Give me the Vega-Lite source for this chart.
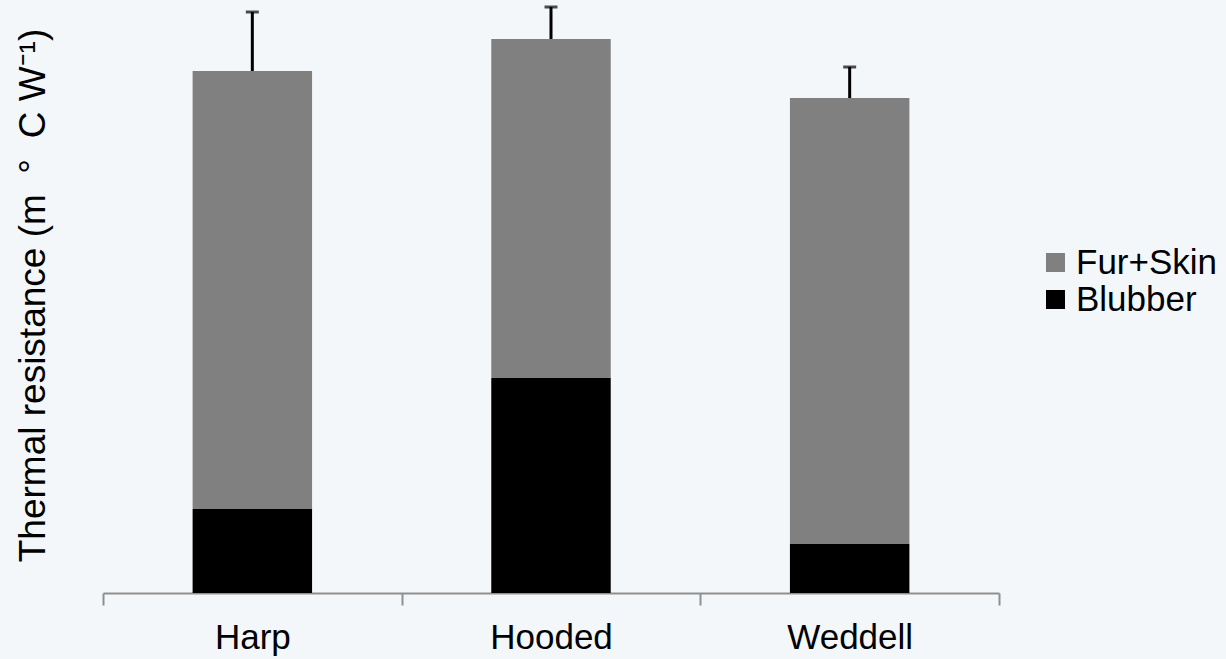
{
  "$schema": "https://vega.github.io/schema/vega-lite/v6.json",
  "width": 896,
  "height": 593,
  "autosize": "none",
  "padding": {"left": 103, "top": 0, "right": 227, "bottom": 66},
  "background": "#f4f7fa",
  "config": {"view": {"stroke": null}, "font": "Liberation Sans"},
  "datasets": {
    "bars": [
      {"species": "Harp", "layer": "Blubber", "value": 0.084},
      {"species": "Harp", "layer": "Fur+Skin", "value": 0.438},
      {"species": "Hooded", "layer": "Blubber", "value": 0.215},
      {"species": "Hooded", "layer": "Fur+Skin", "value": 0.339},
      {"species": "Weddell", "layer": "Blubber", "value": 0.049},
      {"species": "Weddell", "layer": "Fur+Skin", "value": 0.446}
    ],
    "err": [
      {"species": "Harp", "total": 0.522, "upper": 0.581},
      {"species": "Hooded", "total": 0.554, "upper": 0.586},
      {"species": "Weddell", "total": 0.495, "upper": 0.526}
    ]
  },
  "encoding": {
    "x": {
      "field": "species",
      "type": "nominal",
      "sort": ["Harp", "Hooded", "Weddell"],
      "scale": {"paddingInner": 0, "paddingOuter": 0},
      "axis": {
        "title": null,
        "labelAngle": 0,
        "labelFontSize": 35,
        "labelColor": "#000000",
        "labelPadding": 15,
        "tickBand": "extent",
        "tickSize": 12,
        "tickWidth": 2,
        "tickColor": "#8f8f8f",
        "domainColor": "#8f8f8f",
        "domainWidth": 2
      }
    }
  },
  "layer": [
    {
      "data": {"name": "bars"},
      "mark": {"type": "bar", "width": {"band": 0.4}},
      "encoding": {
        "y": {
          "field": "value",
          "type": "quantitative",
          "stack": "zero",
          "scale": {"domain": [0, 0.593], "nice": false},
          "axis": {
            "domain": false,
            "ticks": false,
            "labels": false,
            "grid": false,
            "title": "Thermal resistance (m\u00a0\u00a0°\u00a0\u00a0C W⁻¹)",
            "titleFontSize": 37,
            "titleFontWeight": "normal",
            "titleColor": "#000000",
            "titleAngle": -90,
            "titleX": -59,
            "titleY": 295,
            "titleAlign": "center",
            "titleBaseline": "alphabetic"
          }
        },
        "color": {
          "field": "layer",
          "type": "nominal",
          "scale": {"domain": ["Fur+Skin", "Blubber"], "range": ["#808080", "#000000"]},
          "legend": {
            "title": null,
            "orient": "none",
            "legendX": 935,
            "legendY": 245,
            "symbolType": "square",
            "symbolSize": 361,
            "symbolStrokeWidth": 0,
            "labelFontSize": 35,
            "labelColor": "#000000",
            "labelOffset": 3,
            "rowPadding": 1
          }
        },
        "order": {"field": "layer", "sort": "ascending"}
      }
    },
    {
      "data": {"name": "err"},
      "mark": {"type": "rule", "strokeWidth": 3, "color": "#000000"},
      "encoding": {
        "y": {"field": "total", "type": "quantitative"},
        "y2": {"field": "upper"}
      }
    },
    {
      "data": {"name": "err"},
      "mark": {"type": "tick", "thickness": 3, "size": 13, "color": "#000000"},
      "encoding": {
        "y": {"field": "upper", "type": "quantitative"}
      }
    }
  ]
}
